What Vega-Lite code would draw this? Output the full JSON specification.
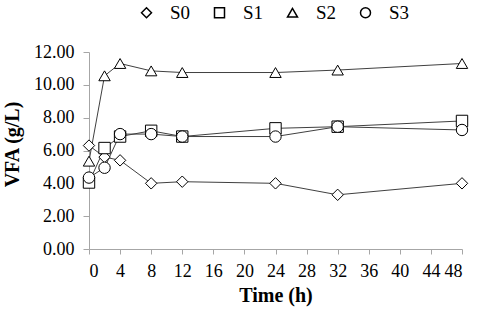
{
  "$schema": "https://vega.github.io/schema/vega-lite/v6.json",
  "width": 373,
  "height": 197,
  "autosize": "none",
  "padding": {"left": 89, "top": 52, "right": 18, "bottom": 67},
  "background": "white",
  "config": {"font": "Liberation Serif", "view": {"stroke": null}},
  "data": {"values": [
    {"series": "S0", "time": 0, "vfa": 6.3},
    {"series": "S0", "time": 2, "vfa": 5.6},
    {"series": "S0", "time": 4, "vfa": 5.4},
    {"series": "S0", "time": 8, "vfa": 4.0},
    {"series": "S0", "time": 12, "vfa": 4.1},
    {"series": "S0", "time": 24, "vfa": 4.0},
    {"series": "S0", "time": 32, "vfa": 3.3},
    {"series": "S0", "time": 48, "vfa": 4.0},
    {"series": "S1", "time": 0, "vfa": 4.05},
    {"series": "S1", "time": 2, "vfa": 6.15},
    {"series": "S1", "time": 4, "vfa": 6.85},
    {"series": "S1", "time": 8, "vfa": 7.2},
    {"series": "S1", "time": 12, "vfa": 6.85},
    {"series": "S1", "time": 24, "vfa": 7.35},
    {"series": "S1", "time": 32, "vfa": 7.45},
    {"series": "S1", "time": 48, "vfa": 7.8},
    {"series": "S2", "time": 0, "vfa": 5.35},
    {"series": "S2", "time": 2, "vfa": 10.55},
    {"series": "S2", "time": 4, "vfa": 11.3},
    {"series": "S2", "time": 8, "vfa": 10.85},
    {"series": "S2", "time": 12, "vfa": 10.75},
    {"series": "S2", "time": 24, "vfa": 10.75},
    {"series": "S2", "time": 32, "vfa": 10.9},
    {"series": "S2", "time": 48, "vfa": 11.3},
    {"series": "S3", "time": 0, "vfa": 4.35},
    {"series": "S3", "time": 2, "vfa": 4.95},
    {"series": "S3", "time": 4, "vfa": 7.0},
    {"series": "S3", "time": 8, "vfa": 7.0},
    {"series": "S3", "time": 12, "vfa": 6.85},
    {"series": "S3", "time": 24, "vfa": 6.85},
    {"series": "S3", "time": 32, "vfa": 7.45},
    {"series": "S3", "time": 48, "vfa": 7.25}
  ]},
  "encoding": {
    "x": {
      "field": "time", "type": "quantitative",
      "scale": {"domain": [0, 48], "nice": false, "zero": false},
      "axis": {
        "values": [0, 4, 8, 12, 16, 20, 24, 28, 32, 36, 40, 44, 48],
        "title": "Time (h)", "grid": false,
        "domainColor": "#a6a6a6", "tickColor": "#a6a6a6", "tickSize": 5,
        "labelFontSize": 18, "labelColor": "black", "labelPadding": 8,
        "titleFontSize": 20, "titleFontWeight": "bold", "titleColor": "black", "titlePadding": 5
      }
    },
    "y": {
      "field": "vfa", "type": "quantitative",
      "scale": {"domain": [0, 12], "nice": false},
      "axis": {
        "values": [0, 2, 4, 6, 8, 10, 12], "format": ".2f",
        "title": "VFA (g/L)", "grid": false,
        "domainColor": "#a6a6a6", "tickColor": "#a6a6a6", "tickSize": 6,
        "labelFontSize": 18, "labelColor": "black", "labelPadding": 9,
        "titleFontSize": 20, "titleFontWeight": "bold", "titleColor": "black",
        "titleX": -67, "titleY": 92
      }
    }
  },
  "layer": [
    {
      "mark": {"type": "line", "stroke": "#404040", "strokeWidth": 1},
      "encoding": {"detail": {"field": "series"}}
    },
    {
      "mark": {"type": "point", "filled": false, "fill": "white", "stroke": "black", "strokeWidth": 1, "size": 130, "opacity": 1},
      "encoding": {
        "shape": {
          "field": "series", "type": "nominal",
          "scale": {"domain": ["S0", "S1", "S2", "S3"], "range": ["diamond", "square", "triangle-up", "circle"]},
          "legend": {
            "orient": "none", "legendX": 48, "legendY": -49, "direction": "horizontal",
            "title": null,
            "labelFontSize": 19, "labelColor": "black",
            "symbolSize": 100, "labelOffset": 14, "columnPadding": 19,
            "encode": {"symbols": {"update": {"shape": {"signal": "datum.value === 'S0' ? 'M-3.6,0H-1M1,0H3.6M-1,0L0,-1L1,0L0,1Z' : datum.value === 'S1' ? 'M-3.6,0H-1M1,0H3.6M-1,-1H1V1H-1Z' : datum.value === 'S2' ? 'M-3.6,0H-0.5M0.5,0H3.6M0,-0.95L-1.1,0.95H1.1Z' : 'M-3.6,0H-1M1,0H3.6M-1,0A1,1,0,1,0,1,0A1,1,0,1,0,-1,0Z'"}}}}
          }
        }
      }
    }
  ]
}
